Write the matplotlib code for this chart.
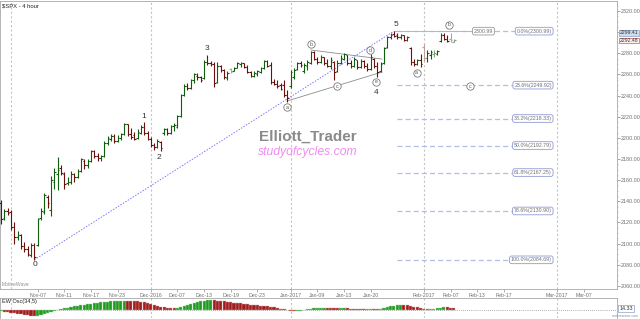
import matplotlib
matplotlib.use("Agg")
import matplotlib.pyplot as plt
import matplotlib.transforms as mtransforms

plt.rcParams['font.family'] = ['Liberation Sans', 'DejaVu Sans']

# 4 hour bars, two per trading day, index 0 = first bar of Nov-01 2016
first_bar = -3

opens = [
    2138, 2124, 2131, 2130, 2116, 2106, 2108, 2098, 2095, 2089,
    2099, 2099, 2124, 2130, 2144, 2132, 2158, 2166, 2172, 2166,
    2157, 2158, 2166, 2163, 2169, 2178, 2174, 2178, 2188, 2183,
    2181, 2183, 2195, 2199, 2202, 2197, 2200, 2204, 2213, 2204,
    2203, 2200, 2205, 2210, 2205, 2199, 2193, 2191, 2196, 2205,
    2208, 2205, 2211, 2210, 2221, 2241, 2249, 2247, 2255, 2259,
    2258, 2257, 2272, 2271, 2270, 2253, 2268, 2264, 2257, 2265,
    2263, 2266, 2270, 2271, 2267, 2262, 2259, 2260, 2262, 2266,
    2273, 2269, 2253, 2251, 2250, 2250, 2241, 2249, 2258, 2265,
    2271, 2263, 2268, 2271, 2281, 2275, 2272, 2277, 2271, 2268,
    2272, 2263, 2271, 2275, 2278, 2271, 2268, 2274, 2267, 2273,
    2268, 2265, 2275, 2268, 2263, 2271, 2286, 2295, 2298, 2297,
    2295, 2297, 2293, 2285, 2272, 2270, 2274, 2286, 2276, 2278,
    2279, 2279, 2292, 2297, 2294, 2294, 2291,
]
highs = [
    2141, 2133, 2134, 2132, 2120, 2112, 2109, 2102, 2098, 2101,
    2101, 2124, 2134, 2148, 2146, 2164, 2172, 2182, 2174, 2168,
    2163, 2169, 2167, 2171, 2181, 2180, 2180, 2189, 2189, 2186,
    2184, 2197, 2202, 2204, 2204, 2203, 2205, 2214, 2213, 2209,
    2206, 2208, 2212, 2215, 2207, 2201, 2195, 2199, 2197, 2209,
    2209, 2212, 2214, 2222, 2242, 2251, 2252, 2256, 2261, 2261,
    2259, 2274, 2278, 2273, 2272, 2272, 2269, 2265, 2263, 2266,
    2267, 2272, 2272, 2271, 2269, 2263, 2263, 2264, 2267, 2274,
    2274, 2272, 2256, 2255, 2252, 2255, 2245, 2264, 2266, 2272,
    2273, 2271, 2274, 2282.5, 2282, 2277, 2278, 2277, 2275, 2277,
    2273, 2274, 2278, 2280, 2278, 2274, 2277, 2274, 2275, 2274,
    2271, 2279, 2276, 2272, 2272, 2286, 2296, 2299, 2300.99, 2299,
    2298, 2297, 2296, 2286, 2275, 2275, 2279, 2289, 2283, 2283,
    2283, 2283, 2298.9, 2299, 2297, 2299.41, 2294,
]
lows = [
    2119, 2122, 2127, 2113, 2100, 2103, 2095, 2092, 2088, 2087,
    2084.69, 2098, 2122, 2128, 2134, 2126, 2152, 2151, 2165, 2152,
    2155, 2156, 2158, 2162, 2168, 2171, 2172, 2177, 2181, 2178,
    2178, 2182, 2193, 2197, 2195, 2196, 2198, 2203, 2202, 2199,
    2198, 2199, 2204, 2203, 2198, 2191, 2189, 2190, 2188, 2203,
    2203, 2204, 2207, 2209, 2220, 2240, 2245, 2246, 2252, 2255,
    2253, 2256, 2269, 2268, 2248.5, 2252, 2262, 2256, 2255, 2261,
    2263, 2266, 2267, 2266, 2261, 2258, 2258, 2259, 2261, 2265,
    2267, 2251, 2250, 2247, 2245, 2239, 2234, 2247, 2256, 2264,
    2267, 2261, 2264, 2270, 2274, 2270, 2271, 2269, 2267, 2265,
    2255, 2262, 2270, 2274, 2269, 2266, 2267, 2265, 2266, 2266,
    2263, 2264, 2266, 2258, 2262, 2270, 2285, 2294, 2295, 2294,
    2294, 2292, 2292, 2269, 2268, 2269, 2267, 2273, 2272, 2275,
    2277, 2278, 2291, 2293, 2291, 2291, 2291,
]
closes = [
    2123, 2131, 2129, 2116, 2106, 2108, 2098, 2095, 2090, 2099,
    2087, 2123, 2131, 2146, 2138, 2160, 2168, 2170, 2167, 2156,
    2158, 2166, 2163, 2169, 2180, 2174, 2178, 2188, 2183, 2181,
    2183, 2195, 2200, 2202, 2197, 2200, 2204, 2213, 2204, 2201,
    2199, 2206, 2210, 2205, 2199, 2193, 2191, 2197, 2190, 2208,
    2205, 2211, 2212, 2221, 2241, 2249, 2247, 2255, 2260, 2258,
    2255, 2272, 2271, 2270, 2252, 2268, 2264, 2258, 2261, 2262,
    2266, 2271, 2271, 2267, 2262, 2259, 2261, 2263, 2266, 2273,
    2268, 2253, 2251, 2249, 2246, 2241, 2238, 2262, 2264, 2271,
    2269, 2269, 2272, 2281, 2275, 2272, 2277, 2271, 2268, 2274,
    2262, 2271, 2276, 2279, 2271, 2268, 2275, 2267, 2273, 2268,
    2265, 2277, 2268, 2262, 2270, 2285, 2295, 2297, 2296, 2295,
    2297, 2293, 2295, 2272, 2270, 2274, 2270, 2276, 2280, 2281,
    2280, 2282, 2297, 2294, 2292, 2292.5, 2292.48,
]
# EW Osc(34,5) histogram
osc = [
    -5, -9, -12, -15, -20, -24, -28, -32, -36, -40,
    -42, -40, -35, -28, -21, -13, -4, 5, 12, 17,
    21, 26, 30, 34, 39, 42, 45, 49, 52, 54,
    57, 60, 63, 66, 68, 69, 70, 71, 70, 69,
    67, 65, 62, 59, 54, 47, 40, 33, 27, 22,
    18, 16, 15, 16, 22, 30, 38, 46, 53, 59,
    64, 69, 73, 74, 72, 70, 67, 64, 60, 57,
    55, 52, 50, 47, 44, 41, 38, 36, 34, 32,
    31, 28, 24, 19, 13, 7, 1, -4, -7, -6,
    -2, 2, 7, 12, 15, 17, 18, 19, 18, 17,
    15, 14, 14, 15, 14, 13, 12, 11, 10, 9,
    10, 11, 10, 8, 9, 14, 22, 29, 35, 38,
    40, 39, 36, 33, 28, 22, 16, 12, 10, 11,
    13, 17, 21, 24, 22, 18, 14.33,
]

date_labels = ["Nov-07", "Nov-11", "Nov-17", "Nov-23", "Dec-2016", "Dec-07", "Dec-13",
               "Dec-19", "Dec-23", "Jan-2017", "Jan-09", "Jan-13", "Jan-20", "Feb-2017",
               "Feb-07", "Feb-13", "Feb-17", "Mar-2017", "Mar-07"]
date_pos = [8, 16, 24, 32, 42, 50, 58, 66, 74, 84, 92, 100, 108, 124, 132, 140, 148, 164, 172]
month_pos = [0, 42, 84, 124, 164]

fib_pct = ["0.0%", "23.6%", "38.2%", "50.0%", "61.8%", "78.6%", "100.0%"]
fib_val = [2300.99, 2249.92, 2218.33, 2192.79, 2167.25, 2130.90, 2084.69]

waves = ["0", "1", "2", "3", "4", "5"]
wave_x = [7.2, 39.9, 44.4, 58.9, 109.6, 115.6]
wave_y = [2079.8, 2219.8, 2181.9, 2285.0, 2243.4, 2307.7]

circ = ["a", "b", "c", "d", "e", "a", "b", "c"]
circ_x = [82.9, 90.1, 97.8, 107.8, 109.6, 121.8, 131.6, 137.8]
circ_y = [2229.2, 2288.5, 2249.1, 2283.1, 2253.1, 2261.7, 2306.8, 2249.1]

price_ticks = list(range(2060, 2321, 20))

W, H = 640, 319
fig = plt.figure(figsize=(6.4, 3.19), dpi=100)
ax = fig.add_axes([0, 1 - 289 / H, 617 / W, 288 / H])
ax2 = fig.add_axes([0, 1 / H, 617 / W, 20 / H])

idx = list(range(first_bar, first_bar + len(closes)))

# bar colours: up / down, dark when the close beats the previous close
cols = []
for i in range(len(closes)):
    prev = closes[i - 1] if i > 0 else opens[i]
    if closes[i] >= opens[i]:
        cols.append('#0d5e0d' if closes[i] >= prev else '#7fa07f')
    else:
        cols.append('#6b0e0e' if closes[i] <= prev else '#c59a9a')

for m in month_pos:
    ax.axvline(m, color='#c4c4c4', lw=0.8, ls=(0, (2, 2)), zorder=0)
    ax2.axvline(m, color='#c4c4c4', lw=0.8, ls=(0, (2, 2)), zorder=0)

ax.vlines(idx, lows, highs, colors=cols, lw=0.8, zorder=3)
ax.hlines(opens, [x - 0.5 for x in idx], idx, colors=cols, lw=0.8, zorder=3)
ax.hlines(closes, idx, [x + 0.5 for x in idx], colors=cols, lw=0.8, zorder=3)

# fibonacci retracement 0 -> 5
ax.plot([7, 115], [2084.69, 2300.99], color='#7878ff', lw=0.7, ls=(0, (1.5, 1.5)), zorder=2)
for p, v in zip(fib_pct, fib_val):
    ax.plot([116, 162], [v, v], color='#b4bce6', lw=0.9, ls=(0, (4, 2.5)), zorder=2)
    ax.text(162.4, v, f"{p}({v:.2f})", ha='right', va='center', fontsize=3.8, color='#707070',
            bbox=dict(boxstyle='round,pad=0.25,rounding_size=0.4', fc='white', ec='#8e9ad6', lw=0.6),
            zorder=5)

ax.plot([115, 141.9], [2300.99, 2300.99], color='#aab4e6', lw=0.7, zorder=2)
ax.text(141.9, 2300.99, "2300.99", ha='center', va='center', fontsize=3.8, color='#707070',
        bbox=dict(boxstyle='round,pad=0.25,rounding_size=0.4', fc='white', ec='#999999', lw=0.6),
        zorder=5)

# triangle a-b-c-d-e
ax.plot([82.9, 111.4], [2234.9, 2262.3], color='#8c8c8c', lw=0.6, zorder=2)
ax.plot([90.1, 111.4], [2283.1, 2274.6], color='#8c8c8c', lw=0.6, zorder=2)

for t, x, y in zip(waves, wave_x, wave_y):
    ax.text(x, y, t, fontsize=6, color='#333333', ha='center', va='center', zorder=6)
for t, x, y in zip(circ, circ_x, circ_y):
    ax.plot(x, y, 'o', ms=5.3, mfc='white', mec='#7a7a7a', mew=0.6, zorder=6)
    ax.text(x, y, t, fontsize=3.8, color='#555555', ha='center', va='center', zorder=7)

ax.text(0.499, 0.528, "Elliott_Trader", transform=ax.transAxes, fontsize=11, fontweight='bold',
        color='#8a8a8a', ha='center', va='center')
ax.text(0.499, 0.474, "studyofcycles.com", transform=ax.transAxes, fontsize=8.7, style='italic',
        color='#f08cf0', ha='center', va='center')
ax.text(0.004, 0.993, r"\$SPX - 4 hour", transform=ax.transAxes, fontsize=4.2, color='#222222',
        ha='left', va='top')
ax.text(0.003, 0.017, "MotiveWave", transform=ax.transAxes, fontsize=3.6, color='#909090',
        ha='left', va='center')

ax.set_xlim(-3.3, 182)
ax.set_ylim(2057.1, 2329.5)
ax.yaxis.tick_right()
ax.set_yticks(price_ticks)
# 2300.00 sits under the current price boxes
ax.set_yticklabels(["" if v == 2300 else f"{v:.2f}" for v in price_ticks])
ax.set_yticks(range(2060, 2326, 5), minor=True)
ax.tick_params(axis='y', which='major', length=2, width=0.5, color='#808080', labelsize=3.9,
               labelcolor='#707070', pad=1)
ax.tick_params(axis='y', which='minor', length=1, width=0.4, color='#a0a0a0')
ax.set_xticks(date_pos)
ax.set_xticklabels(date_labels)
ax.tick_params(axis='x', length=2, width=0.5, color='#909090', labelsize=3.8,
               labelcolor='#707070', pad=1.2)
for s in ax.spines.values():
    s.set_color('#a8a8a8')
    s.set_linewidth(0.6)

bt = mtransforms.blended_transform_factory(ax.transAxes, ax.transData)
ax.text(1.004, 2299.6, "2299.41", transform=bt, ha='left', va='center', fontsize=3.7, color='#333333',
        bbox=dict(boxstyle='square,pad=0.08', fc='#cfdcee', ec='#8aa0c8', lw=0.5), clip_on=False, zorder=10)
ax.text(1.004, 2292.1, "2292.48", transform=bt, ha='left', va='center', fontsize=3.7, color='#333333',
        bbox=dict(boxstyle='square,pad=0.08', fc='#fdf0f0', ec='#c06060', lw=0.5), clip_on=False, zorder=10)

# oscillator panel
ocols = []
ecols = []
for i in range(len(osc)):
    if i == 0 or osc[i] >= osc[i - 1]:
        ocols.append('#1f9a1f')
        ecols.append('#a6d8a6')
    else:
        ocols.append('#a01c1c')
        ecols.append('#d8a6a6')
ax2.bar(idx, osc, width=0.95, color=ocols, edgecolor=ecols, lw=0.3, zorder=3)
ax2.axhline(0, color='#909090', lw=0.6, ls=(0, (1, 1.5)), zorder=2)
ax2.set_xlim(-3.3, 182)
ax2.set_ylim(-54, 89)
ax2.set_xticks([])
ax2.set_yticks([])
for s in ax2.spines.values():
    s.set_color('#a8a8a8')
    s.set_linewidth(0.6)
ax2.spines['bottom'].set_visible(False)
ax2.text(0.004, 0.93, "EW Osc(34,5)", transform=ax2.transAxes, fontsize=4, color='#222222',
         ha='left', va='top')
bt2 = mtransforms.blended_transform_factory(ax2.transAxes, ax2.transData)
ax2.text(1.004, 14.33, "14.33", transform=bt2, ha='left', va='center', fontsize=3.9, color='#333333',
         bbox=dict(boxstyle='square,pad=0.2', fc='white', ec='#8aa0c8', lw=0.5), clip_on=False)
fig.text(0.998, 0.003, "motivewave.com", fontsize=2.6, color='#909090', ha='right', va='bottom')

fig.savefig("out.png", dpi=100)
